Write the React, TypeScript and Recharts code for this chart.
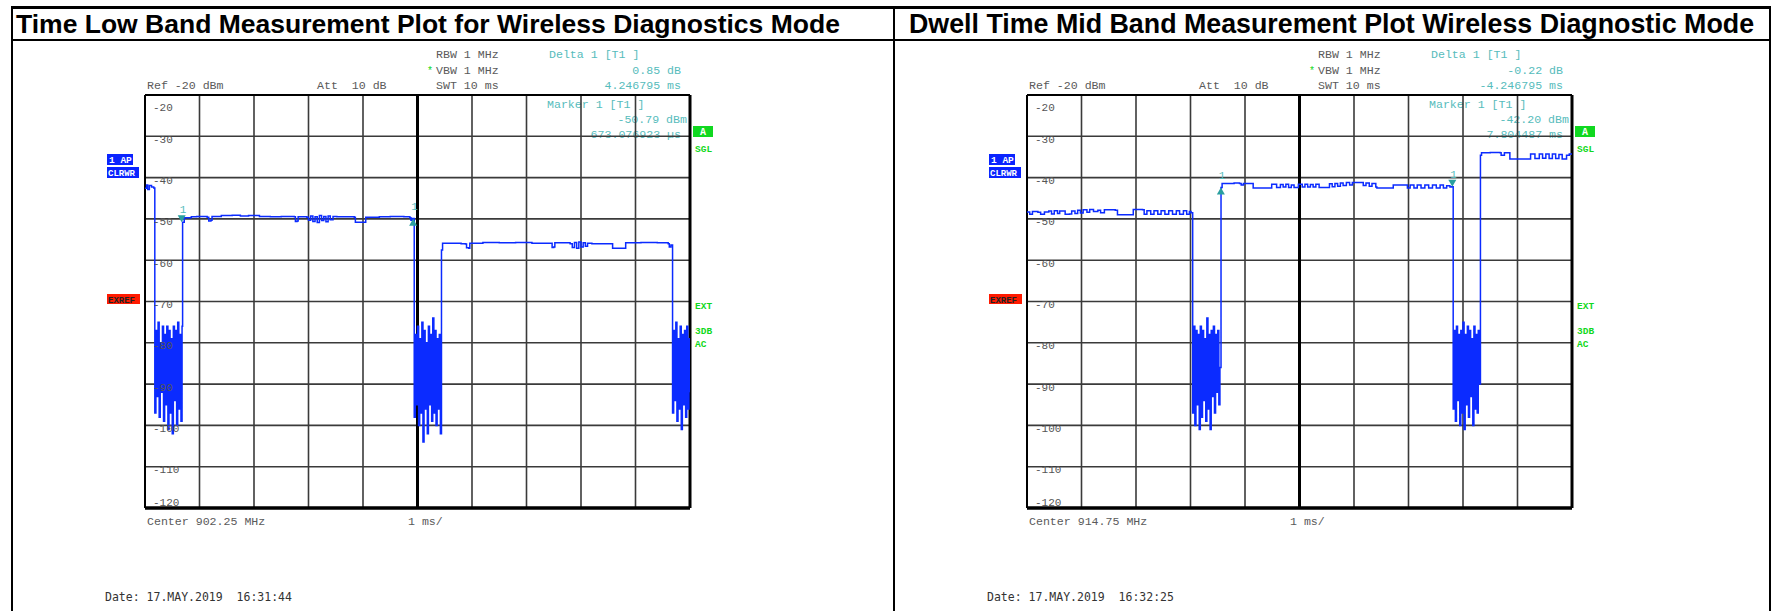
// Two zero-span spectrum analyser screenshots (dwell time), drawn with Recharts.
import React from 'react';
import {
  LineChart,
  Line,
  XAxis,
  YAxis,
  CartesianGrid,
  ReferenceLine,
  ReferenceDot,
} from 'recharts';

// ---------------------------------------------------------------------------
// Data (ms, dBm). Noise bursts are sampled every SWEEP_STEP ms from their start.
// ---------------------------------------------------------------------------

const SWEEP_STEP = 0.02;
const X_TICKS = [0, 1, 2, 3, 4, 5, 6, 7, 8, 9, 10];
const Y_TICKS = [-20, -30, -40, -50, -60, -70, -80, -90, -100, -110, -120];

// Low band
const lowLead = [[0, -42.6], [0.03, -41.8], [0.05, -42.9], [0.08, -41.9], [0.12, -42.3], [0.16, -42.5]];
const lowBurst1Start = 0.18;
const lowBurst1 = [-97, -77, -93, -75, -98, -80, -92, -76, -99, -78, -95, -76, -101, -77, -97, -79, -102, -76, -94, -77, -100, -75, -96, -78, -99, -76];
const lowHigh1 = [
  [0.69, -50.8], [0.72, -49.7], [0.85, -49.5], [0.95, -49.4], [1.1, -49.4], [1.14, -49.6], [1.17, -50.5],
  [1.21, -50.3], [1.23, -49.4], [1.4, -49.2], [1.6, -49.1], [1.75, -49.3], [1.9, -49.2], [2.1, -49.4],
  [2.3, -49.5], [2.5, -49.4], [2.74, -49.5], [2.76, -50.6], [2.79, -50.5], [2.81, -49.5], [2.97, -49.6],
  [3.0, -50.3], [3.04, -49.3], [3.08, -50.6], [3.12, -49.5], [3.16, -50.9], [3.2, -49.2], [3.24, -50.4],
  [3.28, -49.4], [3.32, -50.7], [3.36, -49.3], [3.4, -50.2], [3.45, -49.4], [3.52, -49.5], [3.84, -49.6],
  [3.86, -50.8], [4.03, -50.8], [4.05, -49.6], [4.3, -49.5], [4.5, -49.4], [4.75, -49.5], [4.86, -49.7],
  [4.88, -50.3], [4.9, -49.9], [4.92, -49.9],
];
const lowBurst2Start = 4.94;
const lowBurst2 = [-98, -78, -95, -76, -100, -79, -97, -75, -104, -77, -96, -80, -102, -76, -95, -78, -99, -74, -97, -77, -100, -79, -96, -78, -102];
const lowHigh2 = [
  [5.44, -57.5], [5.46, -55.9], [5.8, -56.0], [5.88, -56.1], [5.9, -57.0], [5.94, -57.1], [5.96, -55.9],
  [6.2, -55.7], [6.5, -55.8], [6.8, -55.7], [7.1, -55.9], [7.45, -55.9], [7.47, -56.9], [7.5, -56.8],
  [7.52, -55.8], [7.8, -56.0], [7.84, -56.9], [7.88, -55.7], [7.92, -57.1], [7.96, -55.6], [8.0, -56.8],
  [8.04, -55.8], [8.08, -56.6], [8.12, -55.9], [8.2, -56.0], [8.56, -56.0], [8.58, -57.1], [8.8, -57.1],
  [8.82, -55.8], [9.1, -55.7], [9.4, -55.8], [9.6, -56.0], [9.62, -56.8], [9.65, -56.3],
];
const lowBurst3Start = 9.68;
const lowBurst3 = [-97, -77, -94, -75, -99, -79, -96, -76, -101, -78, -95, -77, -98, -76, -96, -79, -92];

// Mid band
const midLead = [
  [0, -48.3], [0.05, -48.9], [0.1, -48.2], [0.2, -48.4], [0.25, -48.9], [0.32, -48.3], [0.4, -48.1],
  [0.45, -48.8], [0.5, -48.0], [0.56, -48.7], [0.6, -48.1], [0.7, -48.9], [0.78, -48.8], [0.82, -48.1],
  [0.88, -48.7], [0.93, -47.9], [0.98, -48.6], [1.03, -47.8], [1.1, -48.4], [1.15, -47.7], [1.22, -48.2],
  [1.3, -47.9], [1.35, -48.5], [1.42, -47.8], [1.62, -47.9], [1.66, -49.0], [1.92, -49.0], [1.95, -47.7],
  [2.12, -47.8], [2.15, -48.9], [2.2, -48.0], [2.27, -48.9], [2.33, -48.0], [2.4, -48.9], [2.46, -48.0],
  [2.53, -48.9], [2.6, -48.0], [2.67, -48.9], [2.74, -48.0], [2.8, -48.9], [2.87, -48.0], [2.93, -48.9],
  [2.98, -48.2], [3.01, -48.5],
];
const midBurst1Start = 3.04;
const midBurst1 = [-97, -76, -100, -77, -95, -78, -101, -76, -98, -77, -94, -79, -99, -74, -96, -78, -101, -77, -93, -76, -97, -78, -92, -77, -95, -86];
const midHigh1 = [
  [3.56, -42.4], [3.58, -41.4], [3.8, -41.3], [3.9, -41.4], [3.93, -41.8], [3.97, -41.4], [4.13, -41.4],
  [4.15, -42.5], [4.47, -42.5], [4.49, -41.6], [4.56, -41.6], [4.58, -42.4], [4.63, -42.4], [4.65, -41.7],
  [4.7, -42.3], [4.75, -41.6], [4.8, -42.4], [4.85, -41.8], [4.9, -42.4], [4.96, -42.4], [4.98, -41.6],
  [5.05, -42.3], [5.1, -41.6], [5.15, -42.3], [5.2, -41.7], [5.25, -42.3], [5.3, -41.6], [5.36, -42.4],
  [5.52, -42.4], [5.55, -41.5], [5.6, -42.2], [5.65, -41.4], [5.7, -42.1], [5.75, -41.3], [5.8, -41.9],
  [5.86, -41.2], [5.92, -41.8], [5.97, -41.2], [6.14, -41.2], [6.17, -41.9], [6.22, -41.3], [6.28, -42.1],
  [6.33, -41.4], [6.4, -42.3], [6.42, -42.5], [6.7, -42.5], [6.72, -41.8], [6.95, -41.8], [6.98, -42.5],
  [7.03, -41.8], [7.1, -42.5], [7.16, -41.8], [7.23, -42.5], [7.3, -41.8], [7.37, -42.5], [7.44, -41.8],
  [7.51, -42.5], [7.58, -41.8], [7.64, -42.5], [7.7, -42.0], [7.76, -42.3], [7.79, -42.2],
];
const midBurst2Start = 7.82;
const midBurst2 = [-96, -77, -99, -76, -94, -78, -100, -77, -97, -75, -101, -78, -95, -76, -98, -77, -93, -79, -100, -76, -96, -78, -97, -77, -90];
const midHigh2 = [
  [8.32, -34.6], [8.34, -34.0], [8.5, -33.9], [8.68, -34.0], [8.7, -34.6], [8.74, -34.6], [8.76, -34.0],
  [8.84, -34.0], [8.86, -35.5], [9.22, -35.5], [9.24, -34.3], [9.3, -34.3], [9.32, -35.4], [9.38, -35.4],
  [9.4, -34.3], [9.46, -35.3], [9.52, -34.3], [9.58, -35.4], [9.64, -34.3], [9.7, -35.4], [9.76, -34.4],
  [9.82, -35.5], [9.88, -35.5], [9.9, -34.6], [9.95, -34.3], [10, -34.4],
];

// Markers: [ms, dBm]
const lowMarker1 = [0.673, -50.79];
const lowDelta1 = [4.92, -49.94];
const midMarker1 = [7.804, -42.2];
const midDelta1 = [3.557, -42.42];

// ---------------------------------------------------------------------------

type Part = number[][] | { start: number; levels: number[] };

function buildTrace(parts: Part[]) {
  const out: { t: number; v: number }[] = [];
  parts.forEach((p) => {
    if (Array.isArray(p)) {
      p.forEach(([t, v]) => out.push({ t, v }));
    } else {
      p.levels.forEach((v, i) => out.push({ t: p.start + i * SWEEP_STEP, v }));
    }
  });
  return out;
}

const lowTrace = buildTrace([
  lowLead,
  { start: lowBurst1Start, levels: lowBurst1 },
  lowHigh1,
  { start: lowBurst2Start, levels: lowBurst2 },
  lowHigh2,
  { start: lowBurst3Start, levels: lowBurst3 },
]);

const midTrace = buildTrace([
  midLead,
  { start: midBurst1Start, levels: midBurst1 },
  midHigh1,
  { start: midBurst2Start, levels: midBurst2 },
  midHigh2,
]);

const MONO = '"Liberation Mono", "DejaVu Sans Mono", monospace';
const GRAY = '#5a5a5a';
const TEAL = '#56bcbc';
const GREEN = '#10d820';
const TRACE = '#0b2bff';

const PAD = 4;
const PLOT_W = 545;
const PLOT_H = 413;
const PLOT_TOP = 95;

function MarkerGlyph({ cx, cy, up }: { cx: number; cy: number; up: boolean }) {
  const path = up
    ? `M${cx},${cy} L${cx - 4},${cy + 7} L${cx + 4},${cy + 7} Z`
    : `M${cx},${cy} L${cx - 4},${cy - 7} L${cx + 4},${cy - 7} Z`;
  return (
    <g>
      <path d={path} fill="#2a9f9f" />
      <text x={cx - 2} y={cy - 9} fontSize={11} fill={TEAL} fontFamily={MONO}>1</text>
    </g>
  );
}

function yTick(props: any) {
  const { y, payload } = props;
  const v = payload.value;
  let dy = 6.5;
  if (v === -20) dy = 15.5;
  if (v === -120) dy = -2.5;
  return (
    <text x={PAD + 8} y={y + dy} fontSize={11} fill="#555" fontFamily={MONO}>
      {v}
    </text>
  );
}

function SpectrumPlot({
  data,
  marker,
  delta,
}: {
  data: { t: number; v: number }[];
  marker: number[];
  delta: number[];
}) {
  return (
    <LineChart
      width={PLOT_W + 2 * PAD}
      height={PLOT_H + 2 * PAD}
      data={data}
      margin={{ top: PAD, right: PAD, bottom: PAD, left: PAD }}
    >
      <CartesianGrid
        stroke="#3a3a3a"
        strokeWidth={1.6}
        verticalValues={X_TICKS}
        horizontalValues={Y_TICKS}
      />
      <XAxis dataKey="t" type="number" domain={[0, 10]} ticks={X_TICKS} hide allowDataOverflow />
      <YAxis
        type="number"
        domain={[-120, -20]}
        ticks={Y_TICKS}
        interval={0}
        mirror
        axisLine={false}
        tickLine={false}
        tick={yTick}
        allowDataOverflow
      />
      <ReferenceLine x={5} stroke="#000" strokeWidth={3} />
      <ReferenceLine x={0} stroke="#000" strokeWidth={2} />
      <ReferenceLine x={10} stroke="#000" strokeWidth={3} />
      <ReferenceLine y={-20} stroke="#000" strokeWidth={2} />
      <ReferenceLine y={-120} stroke="#000" strokeWidth={3.5} />
      <Line
        type="stepAfter"
        dataKey="v"
        stroke={TRACE}
        strokeWidth={1.5}
        dot={false}
        isAnimationActive={false}
      />
      <ReferenceDot
        x={marker[0]}
        y={marker[1]}
        r={4}
        shape={(p: any) => <MarkerGlyph cx={p.cx} cy={p.cy} up={false} />}
      />
      <ReferenceDot
        x={delta[0]}
        y={delta[1]}
        r={4}
        shape={(p: any) => <MarkerGlyph cx={p.cx} cy={p.cy} up={true} />}
      />
    </LineChart>
  );
}

function PanelText({
  dx,
  deltaDb,
  deltaTime,
  markerLevel,
  markerTime,
  center,
  date,
}: {
  dx: number;
  deltaDb: string;
  deltaTime: string;
  markerLevel: string;
  markerTime: string;
  center: string;
  date: string;
}) {
  const t = (x: number, y: number, s: string, fill = GRAY, anchor = 'start', size = 11.6) => (
    <text
      x={x + dx}
      y={y}
      fill={fill}
      fontSize={size}
      fontFamily={MONO}
      textAnchor={anchor as any}
      style={{ whiteSpace: 'pre' }}
    >
      {s}
    </text>
  );
  return (
    <g>
      {t(436, 57.5, 'RBW 1 MHz')}
      {t(427, 74, '*', GREEN, 'start', 10)}
      {t(436, 73.5, 'VBW 1 MHz')}
      {t(436, 89, 'SWT 10 ms')}
      {t(147, 89, 'Ref -20 dBm')}
      {t(317, 89, 'Att  10 dB')}
      {t(549, 57.5, 'Delta 1 [T1 ]', TEAL)}
      {t(681, 73.5, deltaDb, TEAL, 'end')}
      {t(681, 89, deltaTime, TEAL, 'end')}
      {t(547, 108, 'Marker 1 [T1 ]', TEAL)}
      {t(687, 123, markerLevel, TEAL, 'end')}
      {t(681, 137.5, markerTime, TEAL, 'end')}

      <rect x={693 + dx} y={126} width={20} height={11} fill={GREEN} />
      <text x={703 + dx} y={135} fill="#fff" fontSize={10} fontWeight="bold" fontFamily={MONO} textAnchor="middle">A</text>
      <text x={695 + dx} y={152} fill={GREEN} fontSize={9.5} fontWeight="bold" fontFamily={MONO}>SGL</text>
      <text x={695 + dx} y={309} fill={GREEN} fontSize={9.5} fontWeight="bold" fontFamily={MONO}>EXT</text>
      <text x={695 + dx} y={334} fill={GREEN} fontSize={9.5} fontWeight="bold" fontFamily={MONO}>3DB</text>
      <text x={695 + dx} y={347} fill={GREEN} fontSize={9.5} fontWeight="bold" fontFamily={MONO}>AC</text>

      <rect x={107 + dx} y={154} width={26} height={11} fill="#0a24ff" />
      <text x={109 + dx} y={163} fill="#fff" fontSize={9.5} fontWeight="bold" fontFamily={MONO}>1 AP</text>
      <rect x={107 + dx} y={167} width={32} height={11} fill="#0a24ff" />
      <text x={108 + dx} y={176} fill="#fff" fontSize={9} fontWeight="bold" fontFamily={MONO}>CLRWR</text>
      <rect x={107 + dx} y={294} width={33} height={10} fill="#ff1a00" />
      <text x={108 + dx} y={302.5} fill="#222" fontSize={9} fontWeight="bold" fontFamily={MONO}>EXREF</text>

      {t(147, 525, center)}
      {t(408, 525, '1 ms/')}
      <text
        x={105 + dx}
        y={601}
        fill="#333"
        fontSize={11.5}
        fontFamily='"DejaVu Sans Mono", monospace'
        style={{ whiteSpace: 'pre' }}
      >
        {date}
      </text>
    </g>
  );
}

export default function App() {
  const dx = 882;
  const titleFont = '"Liberation Sans", Arial, sans-serif';
  return (
    <div
      style={{
        position: 'absolute',
        left: 0,
        top: 0,
        width: 1781,
        height: 611,
        background: '#fff',
        overflow: 'hidden',
      }}
    >
      <svg width={1781} height={611} style={{ position: 'absolute', left: 0, top: 0 }}>
        {/* cadre du tableau */}
        <line x1={12} y1={7.5} x2={1770} y2={7.5} stroke="#000" strokeWidth={3} />
        <line x1={12} y1={40} x2={1770} y2={40} stroke="#000" strokeWidth={2} />
        <line x1={12} y1={6} x2={12} y2={611} stroke="#000" strokeWidth={2} />
        <line x1={894} y1={6} x2={894} y2={611} stroke="#000" strokeWidth={2} />
        <line x1={1770} y1={6} x2={1770} y2={611} stroke="#000" strokeWidth={2} />
        <text x={16} y={33} fontSize={26.5} fontWeight="bold" fontFamily={titleFont}>
          Time Low Band Measurement Plot for Wireless Diagnostics Mode
        </text>
        <text x={909} y={33} fontSize={26.8} fontWeight="bold" fontFamily={titleFont}>
          Dwell Time Mid Band Measurement Plot Wireless Diagnostic Mode
        </text>

        <PanelText
          dx={0}
          deltaDb="0.85 dB"
          deltaTime="4.246795 ms"
          markerLevel="-50.79 dBm"
          markerTime="673.076923 µs"
          center="Center 902.25 MHz"
          date="Date: 17.MAY.2019  16:31:44"
        />
        <PanelText
          dx={dx}
          deltaDb="-0.22 dB"
          deltaTime="-4.246795 ms"
          markerLevel="-42.20 dBm"
          markerTime="7.804487 ms"
          center="Center 914.75 MHz"
          date="Date: 17.MAY.2019  16:32:25"
        />
      </svg>

      <div style={{ position: 'absolute', left: 145 - PAD, top: PLOT_TOP - PAD }}>
        <SpectrumPlot data={lowTrace} marker={lowMarker1} delta={lowDelta1} />
      </div>
      <div style={{ position: 'absolute', left: 145 + dx - PAD, top: PLOT_TOP - PAD }}>
        <SpectrumPlot data={midTrace} marker={midMarker1} delta={midDelta1} />
      </div>
    </div>
  );
}
